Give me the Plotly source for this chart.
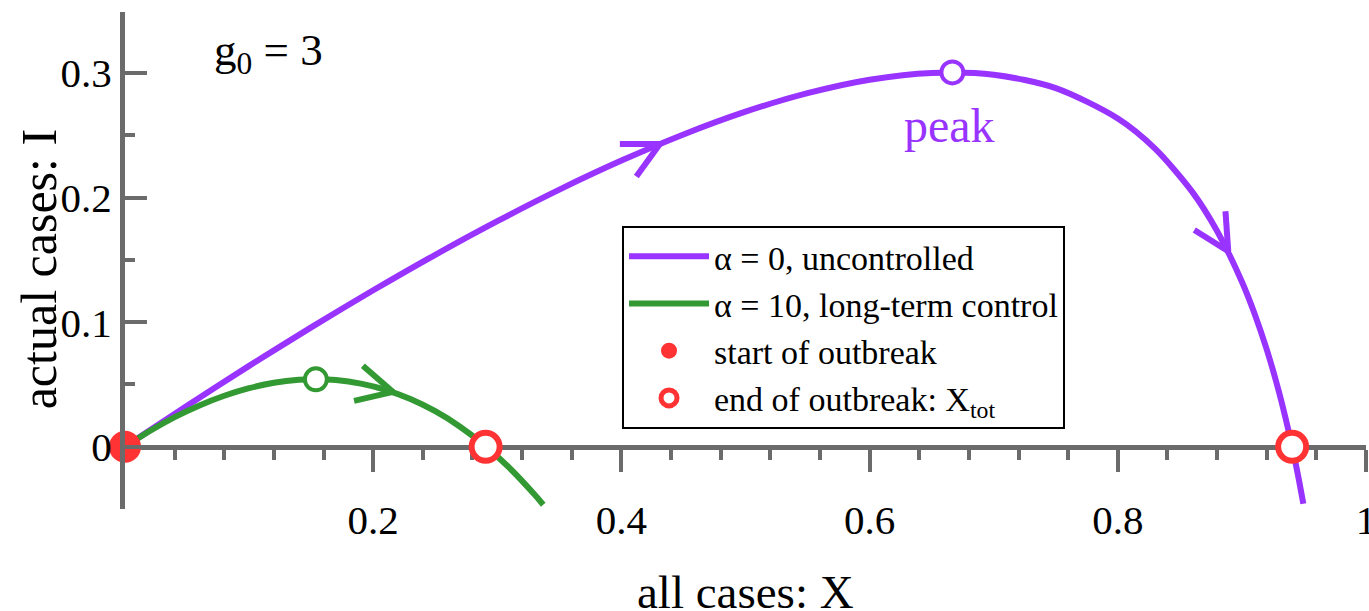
import plotly.graph_objects as go

# ---------------- data ----------------
x_uncontrolled = [0, 0.05, 0.1, 0.15, 0.2, 0.25, 0.3, 0.35, 0.4, 0.45, 0.5, 0.55, 0.6,
                  0.65, 0.7, 0.75, 0.8, 0.83, 0.86, 0.88, 0.9, 0.91, 0.92, 0.93, 0.94,
                  0.945, 0.9495]
i_uncontrolled = [0, 0.0329, 0.0649, 0.0958, 0.1256, 0.1541, 0.1811, 0.2064, 0.2297,
                  0.2507, 0.2690, 0.2838, 0.2946, 0.3001, 0.2987, 0.2879, 0.2635, 0.2393,
                  0.2046, 0.1732, 0.1325, 0.1074, 0.0781, 0.0436, 0.0022, -0.0218, -0.0458]

x_control = [0, 0.02, 0.04, 0.06, 0.08, 0.10, 0.12, 0.14, 0.154, 0.17, 0.19, 0.21, 0.23,
             0.25, 0.27, 0.29, 0.31, 0.33, 0.337]
i_control = [0, 0.0126, 0.0237, 0.0331, 0.0409, 0.0470, 0.0513, 0.0537, 0.0541, 0.0535,
             0.0507, 0.0457, 0.0383, 0.0285, 0.0161, 0.0009, -0.0172, -0.0384, -0.0466]

start_x = [0]
start_i = [0]
end_x = [0.2906, 0.9405]
end_i = [0, 0]

peak_unc_x = [0.6667]
peak_unc_i = [0.3005]
peak_ctl_x = [0.1538]
peak_ctl_i = [0.0541]

arrow_unc_x = [0.431, 0.889]
arrow_unc_i = [0.243, 0.157]
arrow_ctl_x = [0.216]
arrow_ctl_i = [0.044]

x_tick_vals = [0.2, 0.4, 0.6, 0.8, 1.0]
x_tick_text = ["0.2", "0.4", "0.6", "0.8", "1"]
y_tick_vals = [0, 0.1, 0.2, 0.3]
y_tick_text = ["0", "0.1", "0.2", "0.3"]

# ---------------- styles ----------------
PURPLE = "#9933FF"
GREEN = "#339933"
RED = "#FF3333"
GRAY = "#6B6B6B"
SERIF = "Liberation Serif, Times New Roman, serif"

# arm directions of the open arrowheads (marker angles, degrees)
arms_unc = [(90, 36), (176, 122)]
arms_ctl = [(131, 77)]

Y_MIN, Y_MAX = -0.05, 0.349


def arm_trace(xs, ys, arms, color):
    ax, ay, ang = [], [], []
    for x, y, (a1, a2) in zip(xs, ys, arms):
        ax += [x, x]
        ay += [y, y]
        ang += [a1, a2]
    return go.Scatter(
        x=ax, y=ay, mode="markers", showlegend=False, hoverinfo="skip",
        cliponaxis=False,
        marker=dict(symbol="line-ns", size=28.6, angle=ang, standoff=20,
                    line=dict(color=color, width=6)),
    )


fig = go.Figure()

fig.add_trace(go.Scatter(
    x=x_uncontrolled, y=i_uncontrolled, mode="lines",
    name="\u03b1 = 0, uncontrolled",
    line=dict(color=PURPLE, width=6, shape="spline", smoothing=0.8),
))
fig.add_trace(go.Scatter(
    x=x_control, y=i_control, mode="lines",
    name="\u03b1 = 10, long-term control",
    line=dict(color=GREEN, width=6, shape="spline", smoothing=0.8),
))

fig.add_trace(arm_trace(arrow_unc_x, arrow_unc_i, arms_unc, PURPLE))
fig.add_trace(arm_trace(arrow_ctl_x, arrow_ctl_i, arms_ctl, GREEN))

fig.add_trace(go.Scatter(
    x=peak_unc_x, y=peak_unc_i, mode="markers", showlegend=False, cliponaxis=False,
    marker=dict(symbol="circle", size=22, color="white", line=dict(color=PURPLE, width=4)),
))
fig.add_trace(go.Scatter(
    x=peak_ctl_x, y=peak_ctl_i, mode="markers", showlegend=False, cliponaxis=False,
    marker=dict(symbol="circle", size=22, color="white", line=dict(color=GREEN, width=4)),
))

fig.add_trace(go.Scatter(
    x=start_x, y=start_i, mode="markers", name="start of outbreak", cliponaxis=False,
    marker=dict(symbol="circle", size=32, color=RED, line=dict(width=0)),
))
fig.add_trace(go.Scatter(
    x=end_x, y=end_i, mode="markers", name="end of outbreak: X<sub>tot</sub>",
    cliponaxis=False,
    marker=dict(symbol="circle", size=28, color="white", line=dict(color=RED, width=6)),
))

fig.update_layout(
    template="none",
    width=1369, height=611,
    margin=dict(l=125, r=3, t=12, b=102, pad=0),
    paper_bgcolor="white", plot_bgcolor="white",
    font=dict(family=SERIF, color="black"),
    showlegend=True,
    legend=dict(
        x=0.4005, y=0.570, xanchor="left", yanchor="top",
        bordercolor="black", borderwidth=2, bgcolor="white",
        font=dict(family=SERIF, size=34, color="black"),
        itemwidth=80, traceorder="normal",
    ),
    xaxis=dict(
        range=[0, 1], anchor="free", position=(0 - Y_MIN) / (Y_MAX - Y_MIN),
        showline=True, linecolor=GRAY, linewidth=5,
        showgrid=False, zeroline=False,
        tickmode="array", tickvals=x_tick_vals, ticktext=x_tick_text,
        ticks="outside", ticklen=22, tickwidth=3.5, tickcolor=GRAY,
        tickfont=dict(family=SERIF, size=41, color="black"),
        ticklabelstandoff=13, ticklabeloverflow="allow",
        minor=dict(tickmode="linear", tick0=0, dtick=0.04, ticks="outside",
                   ticklen=10, tickwidth=3.5, tickcolor=GRAY, showgrid=False),
        layer="below traces", automargin=False, fixedrange=True,
    ),
    yaxis=dict(
        range=[Y_MIN, Y_MAX],
        showline=True, linecolor=GRAY, linewidth=5,
        showgrid=False, zeroline=False,
        tickmode="array", tickvals=y_tick_vals, ticktext=y_tick_text,
        ticks="inside", ticklen=22, tickwidth=3.5, tickcolor=GRAY,
        tickfont=dict(family=SERIF, size=41, color="black"),
        minor=dict(tickmode="linear", tick0=-0.05, dtick=0.05, ticks="inside",
                   ticklen=10, tickwidth=3.5, tickcolor=GRAY, showgrid=False),
        layer="above traces", automargin=False, fixedrange=True,
    ),
    annotations=[
        dict(text="all cases: X", xref="paper", yref="paper", x=0.5, y=-0.166,
             xanchor="center", yanchor="middle", showarrow=False,
             font=dict(family=SERIF, size=47, color="black")),
        dict(text="actual cases: I", xref="paper", yref="paper", x=-0.069, y=0.483,
             xanchor="center", yanchor="middle", textangle=-90, showarrow=False,
             font=dict(family=SERIF, size=50, color="black")),
        dict(text="g<sub>0</sub> = 3", xref="x", yref="y", x=0.0705, y=0.316,
             xanchor="left", yanchor="middle", showarrow=False,
             font=dict(family=SERIF, size=45, color="black")),
        dict(text="peak", xref="x", yref="y", x=0.664, y=0.2575,
             xanchor="center", yanchor="middle", showarrow=False,
             font=dict(family=SERIF, size=48, color=PURPLE)),
    ],
)

fig.write_html("out.html", config={"displayModeBar": False})
